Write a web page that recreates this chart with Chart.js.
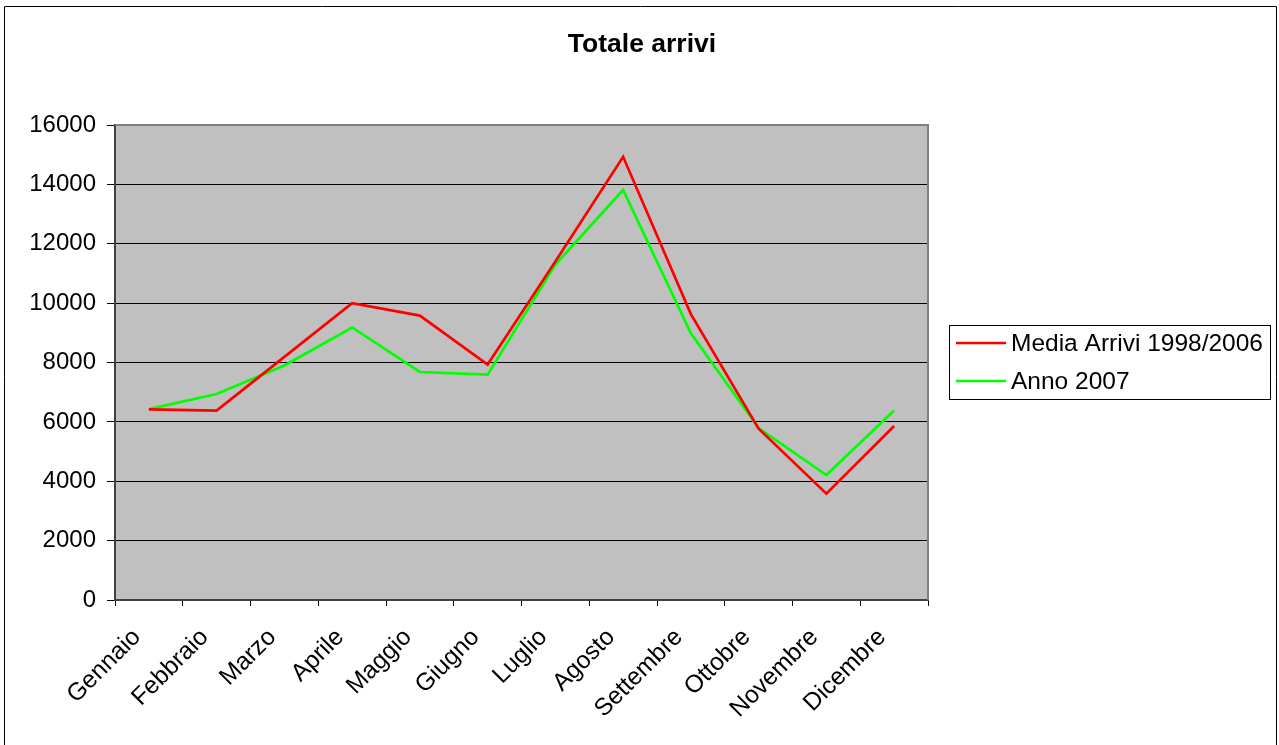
<!DOCTYPE html>
<html>
<head>
<meta charset="utf-8">
<script src="https://cdn.jsdelivr.net/npm/chart.js@4"></script>
<style>
  html, body { margin: 0; padding: 0; background: #fff; }
  #c { display: block; }
</style>
</head>
<body>
<canvas id="c" width="1279" height="745"></canvas>
<script>
const categories = ['Gennaio','Febbraio','Marzo','Aprile','Maggio','Giugno','Luglio','Agosto','Settembre','Ottobre','Novembre','Dicembre'];
const mediaArrivi = [6420, 6380, 8190, 10000, 9580, 7930, 11400, 14930, 9630, 5770, 3580, 5860];
const anno2007 = [6430, 6940, 7900, 9180, 7680, 7590, 11300, 13810, 8980, 5790, 4210, 6380];
const seriesNames = ['Media Arrivi 1998/2006', 'Anno 2007'];
const yTicks = [0, 2000, 4000, 6000, 8000, 10000, 12000, 14000, 16000];
const titleText = 'Totale arrivi';

const FONT = "'Liberation Sans', Arial, Helvetica, sans-serif";

const framePlugin = {
  id: 'frame',
  beforeDraw(chart) {
    const ctx = chart.ctx, a = chart.chartArea;
    ctx.save();
    ctx.fillStyle = '#fff';
    ctx.fillRect(0, 0, chart.width, chart.height);
    ctx.strokeStyle = '#000';
    ctx.lineWidth = 1;
    ctx.beginPath();
    ctx.moveTo(4.5, 800);
    ctx.lineTo(4.5, 6.5);
    ctx.lineTo(1276.5, 6.5);
    ctx.lineTo(1276.5, 800);
    ctx.stroke();
    ctx.fillStyle = '#C0C0C0';
    ctx.fillRect(a.left, a.top, a.right - a.left, a.bottom - a.top);
    ctx.fillStyle = '#000';
    ctx.font = 'bold 26.5px ' + FONT;
    ctx.textAlign = 'center';
    ctx.textBaseline = 'alphabetic';
    ctx.fillText(titleText, 642, 52);
    ctx.restore();
  },
  afterDatasetsDraw(chart) {
    const ctx = chart.ctx, a = chart.chartArea;
    ctx.save();
    ctx.strokeStyle = '#808080';
    ctx.lineWidth = 2;
    ctx.beginPath();
    ctx.moveTo(a.left, a.top);
    ctx.lineTo(a.right, a.top);
    ctx.lineTo(a.right, a.bottom);
    ctx.stroke();
    ctx.restore();
  },
  afterDraw(chart) {
    const ctx = chart.ctx;
    ctx.save();
    ctx.strokeStyle = '#000';
    ctx.lineWidth = 1;
    ctx.strokeRect(949.5, 325.5, 321, 74);
    const ys = [343, 381];
    chart.data.datasets.forEach((ds, i) => {
      ctx.strokeStyle = ds.borderColor;
      ctx.lineWidth = 2.5;
      ctx.beginPath();
      ctx.moveTo(956, ys[i]);
      ctx.lineTo(1006, ys[i]);
      ctx.stroke();
      ctx.fillStyle = '#000';
      ctx.font = '24.5px ' + FONT;
      ctx.textAlign = 'left';
      ctx.textBaseline = 'middle';
      ctx.fillText(ds.label, 1011, ys[i] + 1);
    });
    ctx.restore();
  }
};

new Chart(document.getElementById('c'), {
  type: 'line',
  data: {
    labels: categories,
    datasets: [
      { label: seriesNames[0], data: mediaArrivi, borderColor: '#FF0000', backgroundColor: '#FF0000', borderWidth: 2.7, pointRadius: 0, tension: 0, fill: false },
      { label: seriesNames[1], data: anno2007, borderColor: '#00FF00', backgroundColor: '#00FF00', borderWidth: 2.7, pointRadius: 0, tension: 0, fill: false }
    ]
  },
  options: {
    responsive: false,
    animation: false,
    devicePixelRatio: 1,
    layout: { padding: { top: 125, right: 351, bottom: 0, left: 0 } },
    plugins: {
      legend: { display: false },
      title: { display: false },
      tooltip: { enabled: false }
    },
    scales: {
      x: {
        type: 'category',
        offset: true,
        grid: { display: true, drawOnChartArea: false, drawTicks: true, tickLength: 6, color: '#000', offset: true },
        border: { display: true, color: '#404040', width: 2 },
        ticks: {
          autoSkip: false, maxRotation: 45, minRotation: 45,
          color: '#000', font: { family: FONT, size: 24.5 }, padding: 17, labelOffset: -12
        },
        afterFit: s => { s.height = 145; }
      },
      y: {
        min: 0, max: 16000,
        afterBuildTicks: s => { s.ticks = yTicks.map(v => ({ value: v })); },
        grid: { color: '#000', lineWidth: 1, drawTicks: true, tickLength: 8 },
        border: { display: true, color: '#404040', width: 2 },
        ticks: { color: '#000', font: { family: FONT, size: 24 }, padding: 11, callback: v => String(v) },
        afterFit: s => { s.width = 115; }
      }
    }
  },
  plugins: [framePlugin]
});
</script>
</body>
</html>
